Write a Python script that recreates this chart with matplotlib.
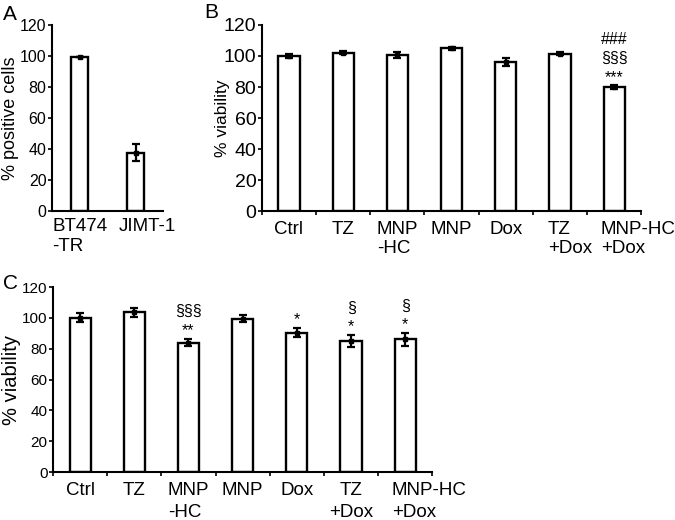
import matplotlib
matplotlib.use('Agg')
import matplotlib.pyplot as plt
from matplotlib.transforms import ScaledTranslation

plt.rcParams['font.family'] = ['Liberation Sans', 'DejaVu Sans']

# panel A
a_labels = ['BT474\n-TR', 'JIMT-1']
a_vals = [99.5, 37.5]
a_err = [0, 5.5]

# panel B
groups = ['Ctrl', 'TZ', 'MNP\n-HC', 'MNP', 'Dox', 'TZ\n+Dox', 'MNP-HC\n+Dox']
b_vals = [100, 102, 100.5, 105, 96, 101.5, 80]
b_err = [1.5, 1, 1.8, 1, 2.5, 1, 1]
b_marks = ['', '', '', '', '', '', '###\n§§§\n***']

# panel C
c_vals = [100, 103.5, 84, 99.5, 90.5, 85, 86]
c_err = [3, 3, 2.5, 2.5, 3, 4, 4]
c_marks = ['', '', '§§§\n**', '', '*', '§\n*', '§\n*']

fig = plt.figure(figsize=(6.75, 5.2), dpi=100)
axA = fig.add_axes([0.077, 0.594, 0.165, 0.358])
axB = fig.add_axes([0.388, 0.594, 0.562, 0.358])
axC = fig.add_axes([0.0785, 0.0923, 0.562, 0.3557])


def style(ax, ylabel, ysize, tsize, lx):
    ax.set_ylim(0, 120)
    ax.set_yticks(range(0, 121, 20))
    ax.spines['top'].set_visible(False)
    ax.spines['right'].set_visible(False)
    ax.spines['left'].set_linewidth(1.5)
    ax.spines['bottom'].set_linewidth(1.5)
    ax.tick_params(axis='y', length=3, width=1.2, labelsize=tsize, pad=1)
    ax.set_ylabel(ylabel, fontsize=ysize)
    ax.yaxis.set_label_coords(lx, 0.5)


def bars(ax, vals, err, width):
    x = list(range(len(vals)))
    ax.bar(x, vals, width=width, color='white', edgecolor='black',
           linewidth=1.7, zorder=2)
    ax.errorbar(x, vals, yerr=err, fmt='s', color='black', markersize=3.5,
                capsize=3, elinewidth=1.6, capthick=1.6, zorder=3)
    ax.set_xlim(-0.5, len(vals) - 0.5)


def shift(lab, dx_px):
    lab.set_transform(lab.get_transform() +
                      ScaledTranslation(dx_px / 100, 0, fig.dpi_scale_trans))


# A
bars(axA, a_vals, a_err, 0.3)
style(axA, '% positive cells', 13, 11.5, -0.30)
axA.set_xticks(range(len(a_labels)))
axA.set_xticklabels(a_labels, fontsize=13.5, multialignment='left')
axA.tick_params(axis='x', length=0, pad=5)
shift(axA.get_xticklabels()[1], 12)


def grouped(ax, vals, err, marks, ysize, tsize, lx, lsp, dxs):
    bars(ax, vals, err, 0.39)
    style(ax, '% viability', ysize, tsize, lx)
    ax.set_xticks([i - 0.5 for i in range(len(groups) + 1)], minor=True)
    ax.tick_params(axis='x', which='minor', length=3, width=1.2)
    ax.set_xticks(range(len(groups)))
    ax.tick_params(axis='x', which='major', length=0, pad=7)
    ax.set_xticklabels(groups, fontsize=13.5, linespacing=lsp,
                       multialignment='left')
    for lab, dx in zip(ax.get_xticklabels(), dxs):
        if dx:
            shift(lab, dx)
    for i, m in enumerate(marks):
        if m:
            ax.text(i, vals[i] + err[i] + 0.5, m, ha='center', va='bottom',
                    fontsize=11.5, linespacing=1.3)


grouped(axB, b_vals, b_err, b_marks, 12.5, 14, -0.084, 1.15,
        [0, 0, 0, 0, 0, 10, 24])
grouped(axC, c_vals, c_err, c_marks, 14.5, 11, -0.085, 1.4,
        [0, 0, 0, 0, 0, 0, 24])
# TZ/+Dox in C is centred line by line
axC.get_xticklabels()[5].set_multialignment('center')

fig.text(0.004, 0.972, 'A', fontsize=15, va='center')
fig.text(0.302, 0.976, 'B', fontsize=15, va='center')
fig.text(0.004, 0.455, 'C', fontsize=15, va='center')

fig.savefig('out.png', dpi=100)
